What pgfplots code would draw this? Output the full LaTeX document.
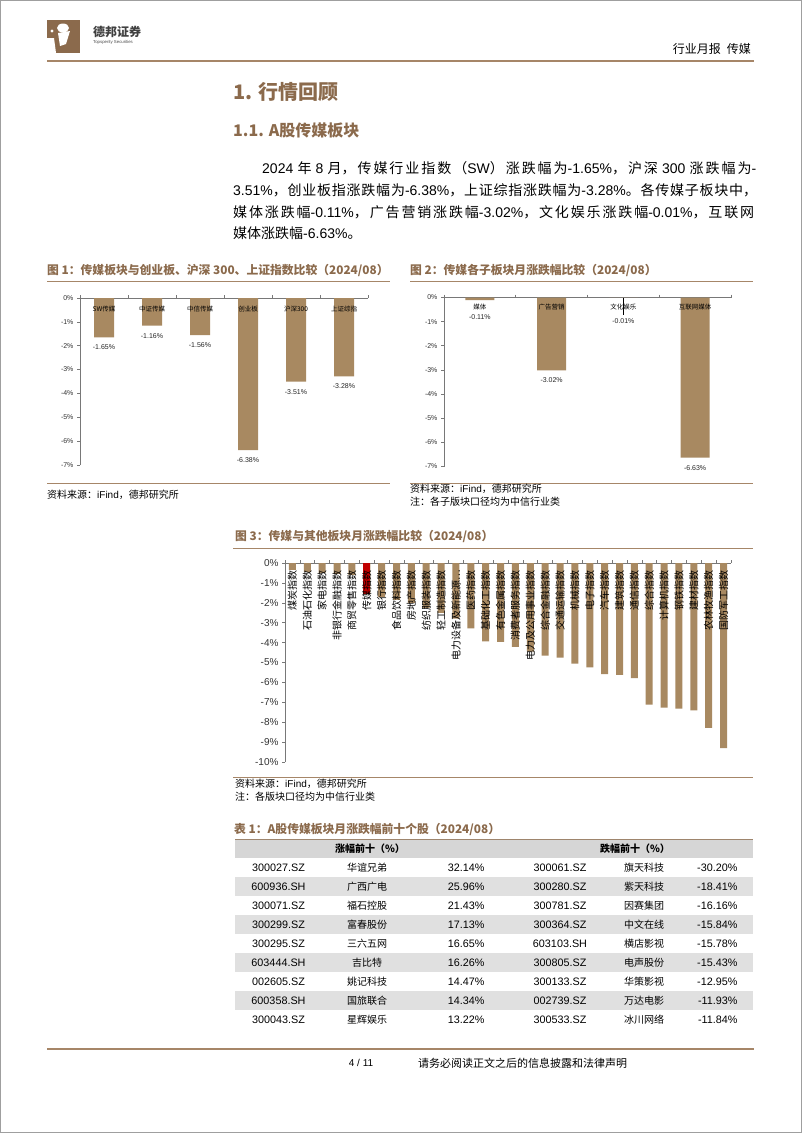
\documentclass[border=0pt]{standalone}
\usepackage{pgfplots}
\usepackage{pgfplotstable}
\pgfplotsset{compat=1.18}
\usepackage{fontspec}
\setmainfont{Liberation Sans}
\newfontfamily\cjk{Noto Sans CJK SC}
\definecolor{dbbrown}{RGB}{139,106,76}
\definecolor{lineb}{RGB}{166,134,104}
\definecolor{barc}{RGB}{168,137,97}
\definecolor{barred}{RGB}{192,0,0}
\definecolor{axc}{RGB}{120,120,120}
\definecolor{rowg}{RGB}{224,224,224}
\definecolor{headg}{RGB}{214,214,214}
\newcommand\fs[1]{\fontsize{#1}{#1}\selectfont}
\newcommand\la[1]{{\rmfamily #1}}
\XeTeXlinebreaklocale "zh"
\XeTeXlinebreakskip=0pt plus 3pt minus 0.2pt
\newcommand\jline[2]{\parbox{#1}{\cjk\fs{14}\parindent=0pt\leftskip=0pt\rightskip=0pt\parfillskip=0pt #2\par}}
\pgfplotsset{
  pagechart/.style={
    scale only axis, anchor=north west, clip=false,
    axis x line*=top, axis y line*=left,
    axis line style={axc, line width=0.6pt},
    tick style={axc, line width=0.6pt},
    tick align=outside, major tick length=3pt,
    /pgf/number format/assume math mode=true,
    yticklabel={\pgfmathprintnumber{\tick}\%},
    xticklabels={},
    yticklabel style={text=black!80},
  },
}
\pgfplotstableread{
x y lab
0 -0.35 煤炭指数
1 -0.45 石油石化指数
2 -0.50 家电指数
3 -0.55 非银行金融指数
4 -0.60 商贸零售指数
5 -1.58 传媒指数
6 -1.70 银行指数
7 -1.85 食品饮料指数
8 -2.00 房地产指数
9 -2.25 纺织服装指数
10 -2.50 轻工制造指数
11 -2.80 电力设备及新能源…
12 -3.28 医药指数
13 -3.94 基础化工指数
14 -3.96 有色金属指数
15 -4.22 消费者服务指数
16 -4.45 电力及公用事业指数
17 -4.65 综合金融指数
18 -4.75 交通运输指数
19 -5.05 机械指数
20 -5.25 电子指数
21 -5.58 汽车指数
22 -5.62 建筑指数
23 -5.78 通信指数
24 -7.12 综合指数
25 -7.27 计算机指数
26 -7.32 钢铁指数
27 -7.40 建材指数
28 -8.28 农林牧渔指数
29 -9.30 国防军工指数
}\sectors
\begin{document}
\begin{tikzpicture}
\useasboundingbox (0pt,0pt) rectangle (802pt,-1133pt);
\fill[white] (0pt,0pt) rectangle (802pt,-1133pt);
\draw[gray!75, line width=1.2pt] (0.6pt,-0.6pt) rectangle (801.4pt,-1132.4pt);
% ---------- header ----------
\fill[dbbrown] (47pt,-20pt) rectangle (80pt,-53pt);
\fill[white] (47pt,-38pt) -- (54pt,-38pt) -- (56pt,-53pt) -- (47pt,-53pt) -- cycle;
\fill[white] (63pt,-28pt) ellipse (6pt and 4.5pt);
\fill[white] (58pt,-33pt) -- (70pt,-31pt) -- (66pt,-44pt) -- (60pt,-46pt) -- cycle;
\fill[white] (52pt,-31pt) circle (1.6pt);
\node[anchor=west, inner sep=0pt, font=\cjk\bfseries\fs{12}, text=black!75] at (93pt,-32pt) {德邦证券};
\node[anchor=west, inner sep=0pt, font=\fs{4.3}, text=black!70] at (93pt,-42pt) {Topsperity Securities};
\node[anchor=east, inner sep=0pt, font=\cjk\fs{12}] at (751pt,-49pt) {行业月报\hspace{6pt}传媒};
\draw[lineb, line width=2.6pt] (47pt,-61pt) -- (754pt,-61pt);
% ---------- headings & paragraph ----------
\node[anchor=west, inner sep=0pt, font=\cjk\bfseries\fs{20}, text=dbbrown] at (233pt,-92pt) {1. 行情回顾};
\node[anchor=west, inner sep=0pt, font=\cjk\bfseries\fs{16}, text=dbbrown] at (233pt,-130pt) {1.1. A股传媒板块};
\node[anchor=west, inner sep=0pt] at (262pt,-168pt)
  {\jline{494pt}{\la{2024} 年 \la{8} 月，传媒行业指数（\la{SW}）涨跌幅为\la{-1.65\%}，沪深 \la{300} 涨跌幅为\la{-}}};
\node[anchor=west, inner sep=0pt] at (233pt,-190.5pt)
  {\jline{524pt}{\la{3.51\%}，创业板指涨跌幅为\la{-6.38\%}，上证综指涨跌幅为\la{-3.28\%}。各传媒子板块中，}};
\node[anchor=west, inner sep=0pt] at (233pt,-212pt)
  {\jline{521pt}{媒体涨跌幅\la{-0.11\%}，广告营销涨跌幅\la{-3.02\%}，文化娱乐涨跌幅\la{-0.01\%}，互联网}};
\node[anchor=west, inner sep=0pt, font=\cjk\fs{14}] at (233pt,-233pt)
  {媒体涨跌幅\la{-6.63\%}。};
% ---------- chart 1 ----------
\node[anchor=west, inner sep=0pt, font=\cjk\bfseries\fs{11.8}, text=dbbrown] at (47pt,-270pt) {图 1：传媒板块与创业板、沪深 300、上证指数比较（2024/08）};
\draw[lineb, line width=1pt] (47pt,-281pt) -- (390pt,-281pt);
\begin{axis}[pagechart, at={(80pt,-298pt)}, width=288pt, height=167pt,
  xmin=-0.5, xmax=5.5, ymin=-7, ymax=0,
  xtick={-0.5,0.5,...,5.5}, ytick={-7,-6,...,0},
  yticklabel style={font=\fs{7}}]
\addplot[ybar, bar width=20pt, fill=barc, draw=none,
  nodes near coords={\pgfmathprintnumber[fixed,fixed zerofill,precision=2]{\pgfplotspointmeta}\%},
  point meta=y, nodes near coords style={font=\fs{7}, text=black!85, yshift=-4pt}]
  coordinates {(0,-1.65) (1,-1.16) (2,-1.56) (3,-6.38) (4,-3.51) (5,-3.28)};
\addplot[draw=none, nodes near coords, point meta=explicit symbolic,
  nodes near coords style={anchor=north, font=\cjk\fs{6.5}, yshift=-4pt}]
  table[meta=lab]{
x y lab
0 0 SW传媒
1 0 中证传媒
2 0 中信传媒
3 0 创业板
4 0 沪深300
5 0 上证综指
};
\end{axis}
\draw[lineb, line width=1pt] (47pt,-483pt) -- (390pt,-483pt);
\node[anchor=west, inner sep=0pt, font=\cjk\fs{10}] at (47pt,-495pt) {资料来源：\la{iFind}，德邦研究所};
% ---------- chart 2 ----------
\node[anchor=west, inner sep=0pt, font=\cjk\bfseries\fs{11.8}, text=dbbrown] at (410pt,-270pt) {图 2：传媒各子板块月涨跌幅比较（2024/08）};
\draw[lineb, line width=1pt] (410pt,-281pt) -- (753pt,-281pt);
\begin{axis}[pagechart, at={(444pt,-297.5pt)}, width=287pt, height=169pt,
  xmin=-0.5, xmax=3.5, ymin=-7, ymax=0,
  xtick={-0.5,0.5,...,3.5}, ytick={-7,-6,...,0},
  yticklabel style={font=\fs{7}}]
\addplot[ybar, bar width=29pt, fill=barc, draw=none]
  coordinates {(0,-0.11) (1,-3.02) (2,-0.01) (3,-6.63)};
\addplot[black, line width=0.8pt] coordinates {(2,0) (2,-0.72)};
\addplot[draw=none, nodes near coords={\pgfmathprintnumber[fixed,fixed zerofill,precision=2]{\pgfplotspointmeta}\%},
  point meta=\thisrow{v}, nodes near coords style={anchor=center, font=\fs{7}, text=black!85}]
  table {
x y v
0 -0.81 -0.11
1 -3.42 -3.02
2 -0.98 -0.01
3 -7.07 -6.63
};
\addplot[draw=none, nodes near coords, point meta=explicit symbolic,
  nodes near coords style={anchor=north, font=\cjk\fs{6.5}, yshift=-3pt}]
  table[meta=lab]{
x y lab
0 0 媒体
1 0 广告营销
2 0 文化娱乐
3 0 互联网媒体
};
\end{axis}
\draw[lineb, line width=1pt] (410pt,-483pt) -- (753pt,-483pt);
\node[anchor=west, inner sep=0pt, font=\cjk\fs{10}] at (410pt,-489pt) {资料来源：\la{iFind}，德邦研究所};
\node[anchor=west, inner sep=0pt, font=\cjk\fs{10}] at (410pt,-502pt) {注：各子版块口径均为中信行业类};
% ---------- chart 3 ----------
\node[anchor=west, inner sep=0pt, font=\cjk\bfseries\fs{11.8}, text=dbbrown] at (235pt,-536pt) {图 3：传媒与其他板块月涨跌幅比较（2024/08）};
\draw[lineb, line width=1pt] (233pt,-548pt) -- (753pt,-548pt);
\begin{axis}[pagechart, at={(285pt,-563pt)}, width=446pt, height=199pt,
  xmin=-0.5, xmax=29.5, ymin=-10, ymax=0,
  xtick={-0.5,0.5,...,29.5}, ytick={-10,-9,...,0},
  yticklabel style={font=\fs{10}}]
\addplot[ybar, bar width=7pt, fill=barc, draw=none] table[x=x, y=y] {\sectors};
\addplot[ybar, bar width=7pt, fill=barred, draw=none] coordinates {(5,-1.58)};
\addplot[draw=none, nodes near coords, point meta=explicit symbolic,
  nodes near coords style={font=\cjk\fs{10}, yshift=-7pt, rotate=90, anchor=east, inner sep=0pt}]
  table[x=x, y expr=0, meta=lab] {\sectors};
\end{axis}
\draw[lineb, line width=1pt] (233pt,-777pt) -- (753pt,-777pt);
\node[anchor=west, inner sep=0pt, font=\cjk\fs{10}] at (235pt,-784pt) {资料来源：\la{iFind}，德邦研究所};
\node[anchor=west, inner sep=0pt, font=\cjk\fs{10}] at (235pt,-797pt) {注：各版块口径均为中信行业类};
% ---------- table ----------
\node[anchor=west, inner sep=0pt, font=\cjk\bfseries\fs{11.8}, text=dbbrown] at (234pt,-829pt) {表 1：A股传媒板块月涨跌幅前十个股（2024/08）};
\fill[headg] (235pt,-839pt) rectangle (753pt,-858pt);
\draw[lineb!80!gray, line width=0.8pt] (235pt,-839pt) -- (753pt,-839pt);
\foreach \r in {2,4,6,8} {
  \pgfmathsetmacro\ya{-(858+19*(\r-1))}
  \pgfmathsetmacro\yb{-(858+19*\r)}
  \fill[rowg] (235pt,\ya pt) rectangle (753pt,\yb pt);
}
\node[font=\cjk\bfseries\fs{10}] at (370pt,-849pt) {涨幅前十（\%）};
\node[font=\cjk\bfseries\fs{10}] at (635pt,-849pt) {跌幅前十（\%）};
\foreach \i/\ca/\na/\pa/\cb/\nb/\pb in {
 1/300027.SZ/华谊兄弟/32.14/300061.SZ/旗天科技/-30.20,
 2/600936.SH/广西广电/25.96/300280.SZ/紫天科技/-18.41,
 3/300071.SZ/福石控股/21.43/300781.SZ/因赛集团/-16.16,
 4/300299.SZ/富春股份/17.13/300364.SZ/中文在线/-15.84,
 5/300295.SZ/三六五网/16.65/603103.SH/横店影视/-15.78,
 6/603444.SH/吉比特/16.26/300805.SZ/电声股份/-15.43,
 7/002605.SZ/姚记科技/14.47/300133.SZ/华策影视/-12.95,
 8/600358.SH/国旅联合/14.34/002739.SZ/万达电影/-11.93,
 9/300043.SZ/星辉娱乐/13.22/300533.SZ/冰川网络/-11.84} {
  \pgfmathsetmacro\yc{-(858+19*\i-9.5)}
  \node[font=\fs{10.8}] at (278.5pt,\yc pt) {\ca};
  \node[font=\cjk\fs{10}] at (367pt,\yc pt) {\na};
  \node[anchor=east, font=\fs{10.8}] at (488pt,\yc pt) {\pa\%};
  \node[font=\fs{10.8}] at (560pt,\yc pt) {\cb};
  \node[font=\cjk\fs{10}] at (644pt,\yc pt) {\nb};
  \node[anchor=east, font=\fs{10.8}] at (741pt,\yc pt) {\pb\%};
}
% ---------- footer ----------
\draw[lineb, line width=2.6pt] (47pt,-1049pt) -- (754pt,-1049pt);
\node[font=\fs{10}] at (361pt,-1063pt) {4 / 11};
\node[anchor=west, inner sep=0pt, font=\cjk\fs{11}] at (418pt,-1063pt) {请务必阅读正文之后的信息披露和法律声明};
\end{tikzpicture}
\end{document}
